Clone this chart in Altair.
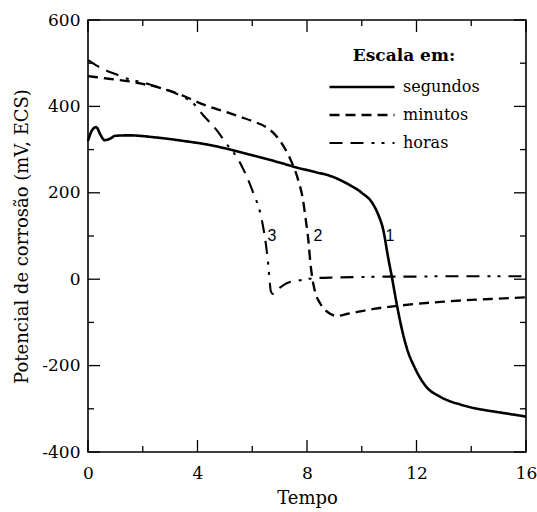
import altair as alt
import pandas as pd

# ---- data ----
seg_x = [0, 0.15, 0.3, 0.45, 0.6, 0.8, 1.0, 1.5, 2.5, 3.5, 4.5, 5.2, 6.0, 7.0, 7.6, 8.3, 8.9, 9.5, 10.0,
         10.4, 10.6, 10.8, 10.95, 11.1, 11.3, 11.5, 11.7, 11.9, 12.1, 12.4, 12.8, 13.2, 13.6, 14.0, 14.5,
         15.0, 15.5, 16.0]
seg_y = [320, 345, 352, 335, 322, 325, 332, 333, 328, 320, 310, 300, 287, 270, 259, 248, 238, 220, 200,
         175, 150, 110, 55, 5, -65, -125, -170, -200, -225, -252, -270, -282, -290, -297, -303,
         -308, -313, -318]

min_x = [0, 0.5, 1.0, 1.5, 2.0, 2.5, 3.0, 3.5, 4.0, 4.5, 5.0, 5.6, 6.0, 6.5, 6.9, 7.1, 7.3, 7.5, 7.7,
         7.85, 7.95, 8.05, 8.12, 8.2, 8.3, 8.5, 8.75, 9.1, 9.5, 10.0, 10.5, 11.0, 12.0, 13.0, 14.0, 15.0, 16.0]
min_y = [470, 466, 462, 458, 452, 445, 436, 424, 410, 398, 388, 375, 366, 352, 330, 312, 290, 262, 225,
         185, 140, 90, 40, 0, -30, -58, -76, -85, -80, -74, -68, -64, -57, -52, -48, -45, -42]

hor_x = [0, 0.3, 0.7, 1.0, 1.3, 1.7, 2.2, 2.7, 3.1, 3.5, 3.8, 4.2, 4.7, 5.1, 5.3, 5.6, 6.0, 6.35, 6.5,
         6.58, 6.63, 6.68, 6.75, 7.0, 7.3, 7.7, 8.2, 9.0, 10.0, 11.0, 12.0, 13.0, 14.0, 15.0, 16.0]
hor_y = [507, 495, 482, 475, 467, 460, 452, 442, 433, 421, 410, 380, 345, 310, 295, 264, 206, 137, 80,
         37, 0, -28, -34, -20, -8, -3, 2, 4, 5, 6, 6, 7, 7, 7, 7]

series_names = ["segundos", "minutos", "horas"]

lab_x = [11.03, 8.4, 6.72]
lab_y = [100, 100, 100]
lab_text = ["1", "2", "3"]

x_major = [0, 4, 8, 12, 16]
x_minor = [2, 6, 10, 14]
y_major = [-400, -200, 0, 200, 400, 600]
y_minor = [-300, -100, 100, 300, 500]

W, H = 438, 432
FONT = "DejaVu Serif"

rows = []
for name, xs, ys in zip(series_names, [seg_x, min_x, hor_x], [seg_y, min_y, hor_y]):
    for i, (a, b) in enumerate(zip(xs, ys)):
        rows.append({"x": a, "y": b, "serie": name, "order": i})
df = pd.DataFrame(rows)

xscale = alt.Scale(domain=[0, 16], nice=False, zero=False)
yscale = alt.Scale(domain=[-400, 600], nice=False, zero=False)

xaxis = alt.Axis(values=x_major, title="Tempo", ticks=False, domain=False, grid=False,
                 labelPadding=13, titlePadding=8, labelFontSize=17, titleFontSize=18,
                 titleFontWeight="normal", labelFont=FONT, titleFont=FONT, labelColor="black",
                 titleColor="black", labelExpr="toString(datum.value)", labelFlush=False)
yaxis = alt.Axis(values=y_major, title="Potencial de corrosão (mV, ECS)", ticks=False, domain=False,
                 grid=False, labelPadding=8, titlePadding=10, labelFontSize=17, titleFontSize=18,
                 titleFontWeight="normal", labelFont=FONT, titleFont=FONT, labelColor="black",
                 titleColor="black", labelExpr="toString(datum.value)", labelFlush=False)

X = alt.X("x:Q", scale=xscale, axis=xaxis)
Y = alt.Y("y:Q", scale=yscale, axis=yaxis)

lines = alt.Chart(df).mark_line(color="black", interpolate="monotone").encode(
    x=X, y=Y,
    order="order:Q",
    strokeDash=alt.StrokeDash(
        "serie:N",
        scale=alt.Scale(domain=series_names,
                        range=[[1, 0], [10, 6], [13, 8, 13, 8, 3, 7, 3, 8]]),
        legend=alt.Legend(
            title="Escala em:", orient="none", legendX=240, legendY=28,
            titleFont=FONT, titleFontSize=17, titleFontWeight="bold", titleColor="black",
            titleAnchor="middle", titlePadding=8,
            labelFont=FONT, labelFontSize=16, labelColor="black", labelOffset=7,
            symbolType="stroke", symbolSize=4225, symbolStrokeWidth=2.2,
            symbolStrokeColor="black", clipHeight=28, rowPadding=0, padding=0,
        ),
    ),
    strokeWidth=alt.StrokeWidth(
        "serie:N", scale=alt.Scale(domain=series_names, range=[2.6, 2.1, 2.1]), legend=None
    ),
)

labels = alt.Chart(pd.DataFrame({"x": lab_x, "y": lab_y, "t": lab_text})).mark_text(
    font="Liberation Sans", fontSize=16, color="black", align="center", baseline="middle"
).encode(x=X, y=Y, text="t:N")


def xticks(vals, length):
    d = pd.DataFrame({"x": vals})
    bottom = alt.Chart(d).mark_rule(color="black", strokeWidth=1.3).encode(
        x=X, y=alt.value(H), y2=alt.value(H - length))
    top = alt.Chart(d).mark_rule(color="black", strokeWidth=1.3).encode(
        x=X, y=alt.value(0), y2=alt.value(length))
    return [bottom, top]


def yticks(vals, length):
    d = pd.DataFrame({"y": vals})
    left = alt.Chart(d).mark_rule(color="black", strokeWidth=1.3).encode(
        y=Y, x=alt.value(0), x2=alt.value(length))
    right = alt.Chart(d).mark_rule(color="black", strokeWidth=1.3).encode(
        y=Y, x=alt.value(W), x2=alt.value(W - length))
    return [left, right]


tick_layers = xticks(x_major, 12) + xticks(x_minor, 6) + yticks(y_major, 12) + yticks(y_minor, 6)

chart = alt.layer(lines, labels, *tick_layers).properties(
    width=W, height=H,
    autosize=alt.AutoSizeParams(type="none"),
    padding={"left": 88, "top": 20, "right": 11, "bottom": 60},
    background="white",
).configure_view(stroke="black", strokeWidth=1.6)

chart.save("out.html", embed_options={"renderer": "svg", "actions": False})
